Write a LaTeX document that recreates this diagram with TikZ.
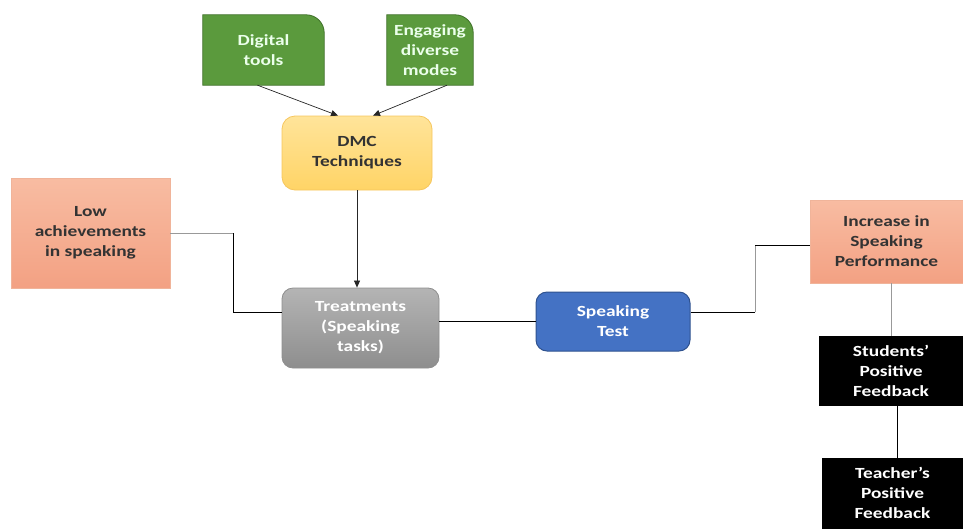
\documentclass[tikz,border=0pt]{standalone}
\usepackage{fontspec}
\setmainfont{Carlito}[FakeStretch=1.25]
\usetikzlibrary{arrows.meta,calc,backgrounds}
\definecolor{grn}{HTML}{5B9A3D}
\definecolor{grnd}{HTML}{3E7028}
\definecolor{ylwT}{HTML}{FFE49A}
\definecolor{ylwB}{HTML}{FFD466}
\definecolor{ylwD}{HTML}{F6C65E}
\definecolor{salT}{HTML}{F8BCA2}
\definecolor{salB}{HTML}{F3A183}
\definecolor{salD}{HTML}{F0B49A}
\definecolor{gryT}{HTML}{B4B4B4}
\definecolor{gryB}{HTML}{8E8E8E}
\definecolor{blu}{HTML}{4472C4}
\definecolor{blud}{HTML}{2F528F}
\definecolor{txt}{HTML}{333333}
\tikzset{
  lbl/.style={align=center,font=\fontsize{15.5}{20}\selectfont\bfseries,inner sep=0pt},
  greenbox/.style={lbl,text=white!92!green},
  dmcbox/.style={lbl,text=txt,rounded corners=13pt,top color=ylwT,bottom color=ylwB,draw=ylwD,line width=0.8pt},
  salbox/.style={lbl,text=txt,top color=salT,bottom color=salB,draw=salD,line width=0.8pt},
  grybox/.style={lbl,text=white,rounded corners=11pt,top color=gryT,bottom color=gryB,draw=gryB,line width=0.8pt},
  blubox/.style={lbl,text=white,rounded corners=11pt,fill=blu,draw=blud,line width=1pt},
  blkbox/.style={lbl,text=white,fill=black,draw=black},
  arr/.style={-{Triangle[length=7pt,width=6pt]},draw=black!85,line width=0.7pt},
  lnk/.style={draw=black,line width=0.9pt},
  lnkg/.style={draw=black!40,line width=0.9pt},
}
\begin{document}
\begin{tikzpicture}[x=1pt,y=-1pt]
\useasboundingbox (0,0) rectangle (963,528);
% nodes
\node[greenbox,minimum width=121pt,minimum height=70pt] (dig) at (263.5,50) {Digital\\tools};
\node[greenbox,minimum width=86pt,minimum height=70pt] (eng) at (430,50) {Engaging\\diverse\\modes};
\node[dmcbox,minimum width=150pt,minimum height=74pt] (dmc) at (357,153) {DMC\\Techniques};
\node[salbox,minimum width=159pt,minimum height=110pt] (low) at (90.5,233) {Low\\achievements\\in speaking};
\node[grybox,minimum width=157pt,minimum height=80pt] (trt) at (360.5,328) {Treatments\\(Speaking\\tasks)};
\node[blubox,minimum width=154pt,minimum height=59pt] (tst) at (613,321.5) {Speaking\\Test};
\node[salbox,minimum width=153pt,minimum height=83pt] (inc) at (886.5,241.5) {Increase in\\Speaking\\Performance};
\node[blkbox,minimum width=144pt,minimum height=69pt] (stu) at (891,370.5) {Students’\\Positive\\Feedback};
\node[blkbox,minimum width=141pt,minimum height=70pt] (tea) at (892.5,493) {Teacher’s\\Positive\\Feedback};
% green shapes with one rounded corner
\begin{pgfonlayer}{background}
\foreach \n in {dig,eng}{
  \path[fill=grn,draw=grnd,line width=0.8pt]
    (\n.south west) -- (\n.north west) -- ($(\n.north east)+(-18pt,0)$)
    arc[start angle=90,end angle=0,radius=18pt] -- (\n.south east) -- cycle;
}
\end{pgfonlayer}
% connectors
\draw[arr] ($(dig.south)+(-6,0)$) -- ($(dmc.north)+(-19,0)$);
\draw[arr] ($(eng.south)+(17,0)$) -- ($(dmc.north)+(16,0)$);
\draw[arr] (dmc.south) -- (trt.north -| dmc.south);
\coordinate (lk1) at (233,233);
\coordinate (lk2) at (233,312);
\draw[lnkg] (low.east |- lk1) -- (lk1);
\draw[lnk] (lk1) -- (lk2) -- (trt.west |- lk2);
\draw[lnk] (trt.east |- tst.west) -- (tst.west);
\coordinate (rk1) at (755,312);
\coordinate (rk2) at (755,245);
\draw[lnk] (tst.east |- rk1) -- (rk1);
\draw[lnkg] (rk1) -- (rk2);
\draw[lnk] (rk2) -- (inc.west |- rk2);
\draw[lnkg] (inc.south -| 891,0) -- (stu.north);
\draw[lnk] (stu.south -| 897,0) -- (tea.north -| 897,0);
\end{tikzpicture}
\end{document}
